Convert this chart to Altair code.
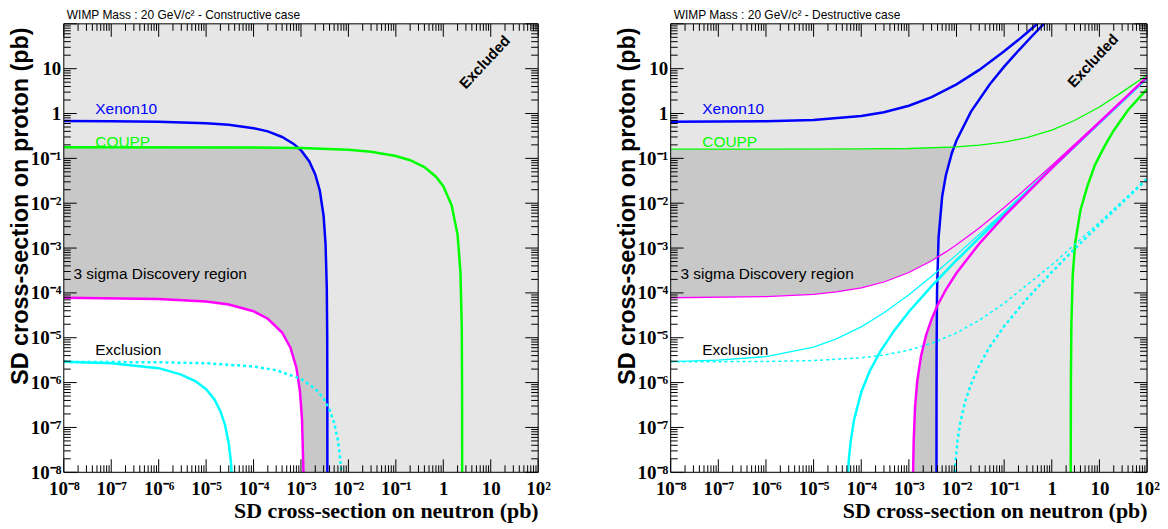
import altair as alt
import pandas as pd

# ---------------- axis ticks / labels ----------------
decades = [1e-8, 1e-7, 1e-6, 1e-5, 1e-4, 1e-3, 1e-2, 1e-1, 1.0, 10.0, 100.0]
x_labels = ["10⁻⁸", "10⁻⁷", "10⁻⁶", "10⁻⁵", "10⁻⁴", "10⁻³", "10⁻²", "10⁻¹", "1", "10", "10²"]
y_labels = x_labels[:-1]
minor_ticks = [m * 10.0 ** e for e in range(-8, 2) for m in range(2, 10)]

# ---------------- left panel: constructive case ----------------
L_xenon_x = [1e-8, 1e-7, 1e-6, 1e-5, 3e-5, 1e-4, 2e-4, 4e-4, 7e-4, 1e-3, 1.5e-3, 2e-3, 2.5e-3, 3e-3, 3.3e-3, 3.5e-3, 3.57e-3, 3.595e-3, 3.6e-3]
L_xenon_y = [0.68, 0.673, 0.657, 0.61, 0.56, 0.47, 0.40, 0.30, 0.21, 0.152, 0.0855, 0.044, 0.019, 5.2e-3, 1.2e-3, 1.3e-4, 1.2e-5, 3.3e-7, 1e-8]

L_coupp_x = [1e-8, 1e-4, 1e-3, 1e-2, 3e-2, 0.1, 0.2, 0.4, 0.7, 1.0, 1.5, 2.0, 2.3, 2.45, 2.49, 2.5]
L_coupp_y = [0.177, 0.175, 0.170, 0.155, 0.140, 0.113, 0.091, 0.064, 0.039, 0.024, 9.0e-3, 2.0e-3, 2.9e-4, 1.8e-5, 7e-7, 1e-8]

L_magenta_x = [1e-8, 1e-6, 1e-5, 3e-5, 1e-4, 2e-4, 4e-4, 6e-4, 8e-4, 9.5e-4, 1.05e-3, 1.12e-3, 1.13e-3]
L_magenta_y = [7.8e-5, 7.35e-5, 6.4e-5, 5.5e-5, 3.9e-5, 2.65e-5, 1.31e-5, 6.0e-6, 2.15e-6, 6.5e-7, 1.55e-7, 1.3e-8, 1e-8]

L_cyan_x = [1e-8, 1e-7, 1e-6, 3e-6, 6e-6, 1e-5, 1.5e-5, 2e-5, 2.5e-5, 3e-5, 3.3e-5, 3.45e-5]
L_cyan_y = [2.9e-6, 2.7e-6, 2.1e-6, 1.51e-6, 1.07e-6, 7.1e-7, 4.2e-7, 2.3e-7, 1.15e-7, 4.4e-8, 1.86e-8, 1e-8]

L_dot_x = [1e-8, 1e-6, 1e-5, 1e-4, 3e-4, 1e-3, 2e-3, 3e-3, 4e-3, 5e-3, 6e-3, 6.6e-3, 7.1e-3]
L_dot_y = [2.9e-6, 2.84e-6, 2.7e-6, 2.29e-6, 1.89e-6, 1.21e-6, 7.3e-7, 4.4e-7, 2.5e-7, 1.27e-7, 5.2e-8, 2.4e-8, 1e-8]

# ---------------- right panel: destructive case ----------------
R_xenon_up_x = [1e-8, 1e-6, 1e-5, 1e-4, 3e-4, 1e-3, 3e-3, 1e-2, 3e-2, 0.1, 0.2, 0.3, 0.45, 0.5]
R_xenon_up_y = [0.652, 0.67, 0.72, 0.88, 1.07, 1.49, 2.32, 4.47, 9.4, 24.4, 44, 63.5, 92, 101]

R_xenon_lo_x = [3.801e-3, 3.805e-3, 3.82e-3, 3.9e-3, 4.2e-3, 5e-3, 6e-3, 8e-3, 1e-2, 2e-2, 5e-2, 0.1, 0.2, 0.4, 0.6, 0.7]
R_xenon_lo_y = [1e-8, 2.8e-7, 4.5e-6, 1.1e-4, 1.7e-3, 0.0141, 0.0428, 0.132, 0.25, 1.09, 4.49, 11.1, 25.4, 55.7, 87, 102.8]

R_coupp_up_x = [1e-8, 1e-4, 1e-3, 1e-2, 3e-2, 0.1, 0.3, 1, 3, 10, 30, 100]
R_coupp_up_y = [0.16, 0.162, 0.166, 0.181, 0.197, 0.23, 0.29, 0.426, 0.70, 1.4, 3.0, 7.2]

R_coupp_lo_x = [2.5, 2.52, 2.58, 2.75, 3.1, 4, 5.6, 8, 12.6, 20, 40, 100]
R_coupp_lo_y = [1e-8, 1e-6, 2e-5, 2.5e-4, 1.3e-3, 7e-3, 0.024, 0.07, 0.18, 0.42, 1.2, 3.5]

R_mag_up_x = [1e-8, 1e-6, 1e-5, 3e-5, 1e-4, 3e-4, 1e-3, 3e-3, 6e-3, 1e-2, 3e-2, 0.1, 0.3, 1, 3, 10, 30, 100]
R_mag_up_y = [7.8e-5, 8.3e-5, 9.3e-5, 1.05e-4, 1.3e-4, 1.75e-4, 2.85e-4, 5.2e-4, 8.2e-4, 1.18e-3, 2.8e-3, 8.0e-3, 0.022, 0.0696, 0.203, 0.664, 1.97, 6.5]

R_mag_lo_x = [1.227e-3, 1.26e-3, 1.35e-3, 1.5e-3, 1.8e-3, 2.3e-3, 3e-3, 4e-3, 6e-3, 1e-2, 3e-2, 0.1, 1, 10, 100]
R_mag_lo_y = [1e-8, 4.8e-8, 2.9e-7, 1.09e-6, 3.9e-6, 1.15e-5, 2.6e-5, 5.3e-5, 1.19e-4, 2.78e-4, 1.25e-3, 5.15e-3, 0.0606, 0.636, 6.46]

R_cyan_up_x = [1e-8, 1e-7, 1e-6, 1e-5, 3e-5, 1e-4, 3e-4, 1e-3, 3e-3, 1e-2, 0.1, 1, 10, 100]
R_cyan_up_y = [2.95e-6, 3.17e-6, 3.8e-6, 6.2e-6, 9.4e-6, 1.75e-5, 3.6e-5, 9.1e-5, 2.34e-4, 7.05e-4, 6.4e-3, 0.0626, 0.62, 6.2]

R_cyan_lo_x = [5.27e-5, 5.5e-5, 6e-5, 7e-5, 1e-4, 1.5e-4, 2.5e-4, 5e-4, 1e-3, 3e-3, 1e-2, 0.1, 1, 10, 100]
R_cyan_lo_y = [1e-8, 1.94e-8, 4.9e-8, 1.41e-7, 6.1e-7, 1.79e-6, 4.9e-6, 1.48e-5, 3.8e-5, 1.42e-4, 5.35e-4, 5.9e-3, 0.061, 0.614, 6.1]

R_dot_up_x = [1e-8, 1e-6, 1e-5, 1e-4, 3e-4, 1e-3, 3e-3, 1e-2, 3e-2, 0.1, 1, 10, 100]
R_dot_up_y = [2.9e-6, 2.96e-6, 3.1e-6, 3.58e-6, 4.1e-6, 5.3e-6, 7.5e-6, 1.28e-5, 2.46e-5, 5.85e-5, 4.2e-4, 3.74e-3, 0.036]

R_dot_lo_x = [9.2e-3, 9.5e-3, 1.05e-2, 1.2e-2, 1.5e-2, 2e-2, 3e-2, 5e-2, 0.1, 0.3, 1, 2, 10, 100]
R_dot_lo_y = [1e-8, 1.69e-8, 5.0e-8, 1.28e-7, 3.6e-7, 9.1e-7, 2.4e-6, 6.3e-6, 1.8e-5, 7.4e-5, 2.9e-4, 6.2e-4, 3.34e-3, 0.0347]

# ---------------- annotations ----------------
label_texts = ["Xenon10", "COUPP", "3 sigma Discovery region", "Exclusion"]
label_colors = ["#0000ff", "#00ff00", "#000000", "#000000"]
label_x = [4.6e-8, 4.6e-8, 1.6e-8, 4.6e-8]
label_y = [1.25, 0.23, 2.6e-4, 5.2e-6]
excluded_text = "Excluded"
excluded_left = (7.5, 14.0)
excluded_right = (7.3, 15.0)

# ---------------- styling ----------------
WL, WR, H = 476, 478, 450
LIGHT = "#e6e6e6"
DARK = "#c8c8c8"
BLUE, GREEN, MAGENTA, CYAN = "#0000ff", "#00ff00", "#ff00ff", "#00ffff"
YMIN, YMAX = 1e-8, 100.0


def label_expr(vals, labs):
    parts = [f"datum.value < {v * 3:.3g} ? '{l}'" for v, l in zip(vals, labs)]
    return " : ".join(parts) + " : ''"


xscale = alt.Scale(type="log", domain=[YMIN, YMAX], nice=False)
yscale = alt.Scale(type="log", domain=[YMIN, YMAX], nice=False)

xaxis = alt.Axis(
    values=decades, labelExpr=label_expr(decades, x_labels), ticks=False, tickSize=0,
    domain=False, grid=False, labelFlush=False, labelOverlap=False,
    labelFont="Liberation Serif", labelFontWeight="bold", labelFontSize=19, labelColor="black",
    labelPadding=7, title="SD cross-section on neutron (pb)", titleFont="Liberation Serif",
    titleFontSize=22, titleFontWeight="bold", titleColor="black", titleAnchor="end", titlePadding=2,
)
yaxis = alt.Axis(
    values=decades[:-1], labelExpr=label_expr(decades[:-1], y_labels), ticks=False, tickSize=0,
    domain=False, grid=False, labelFlush=False, labelOverlap=False,
    labelFont="Liberation Serif", labelFontWeight="bold", labelFontSize=19, labelColor="black",
    labelPadding=3, title="SD cross-section on proton (pb)", titleFont="Liberation Sans",
    titleFontSize=23.5, titleFontWeight="bold", titleColor="black",
    titleX=-31, titleY=3, titleAngle=270, titleAlign="right", titleBaseline="bottom",
)

X = alt.X("x:Q", scale=xscale, axis=xaxis)
Y = alt.Y("y:Q", scale=yscale, axis=yaxis)


def df_xy(xs, ys):
    return pd.DataFrame({"x": xs, "y": ys, "i": list(range(len(xs)))})


def line(xs, ys, color, width, dash=None):
    kw = dict(color=color, strokeWidth=width, clip=True)
    if dash:
        kw["strokeDash"] = dash
    return alt.Chart(df_xy(xs, ys)).mark_line(**kw).encode(x=X, y=Y, order="i:Q")


def vfill(xs, ys, color, to_top=False):
    return alt.Chart(df_xy(xs, ys)).mark_area(color=color, clip=True, orient="vertical").encode(
        x=X, y=Y, y2=alt.Y2(datum=YMAX if to_top else YMIN))


def hfill(xs, ys, color, to_right=False):
    return alt.Chart(df_xy(xs, ys)).mark_area(color=color, clip=True, orient="horizontal").encode(
        y=Y, x=X, x2=alt.X2(datum=YMAX if to_right else YMIN))


def background(W):
    return alt.Chart(pd.DataFrame({"a": [0]})).mark_rect(color=LIGHT).encode(
        x=alt.value(0), x2=alt.value(W), y=alt.value(0), y2=alt.value(H))


def frame_layers(W):
    maj = pd.DataFrame({"v": decades})
    mnr = pd.DataFrame({"v": minor_ticks})
    XV = alt.X("v:Q", scale=xscale, axis=xaxis)
    YV = alt.Y("v:Q", scale=yscale, axis=yaxis)
    layers = []
    for d, ln in ((maj, 13), (mnr, 7)):
        r = alt.Chart(d).mark_rule(color="black", strokeWidth=1)
        layers.append(r.encode(x=XV, y=alt.value(H), y2=alt.value(H - ln)))
        layers.append(r.encode(x=XV, y=alt.value(0), y2=alt.value(ln)))
        layers.append(r.encode(y=YV, x=alt.value(0), x2=alt.value(ln)))
        layers.append(r.encode(y=YV, x=alt.value(W), x2=alt.value(W - ln)))
    border = alt.Chart(pd.DataFrame({"a": [0]})).mark_rect(
        filled=False, stroke="black", strokeWidth=1).encode(
        x=alt.value(0), x2=alt.value(W), y=alt.value(0), y2=alt.value(H))
    layers.append(border)
    return layers


def text_layers(exc_pos):
    tdf = pd.DataFrame({"x": label_x, "y": label_y, "t": label_texts, "c": label_colors})
    t = alt.Chart(tdf).mark_text(align="left", baseline="middle", font="Liberation Sans", fontSize=15.5).encode(
        x=X, y=Y, text="t:N", color=alt.Color("c:N", scale=None))
    edf = pd.DataFrame({"x": [exc_pos[0]], "y": [exc_pos[1]], "t": [excluded_text]})
    e = alt.Chart(edf).mark_text(align="center", baseline="middle", font="Liberation Sans", fontSize=15,
                                 fontWeight="bold", angle=313, color="black").encode(x=X, y=Y, text="t:N")
    return [t, e]


def title(txt):
    return alt.TitleParams(text=txt, anchor="start", frame="group", dx=3, offset=1, font="Liberation Sans",
                           fontSize=12, fontWeight="normal", color="black")


left_layers = [
    background(WL),
    vfill(L_xenon_x, L_xenon_y, DARK),
    vfill(L_coupp_x, L_coupp_y, LIGHT, to_top=True),
    vfill(L_magenta_x, L_magenta_y, "white"),
    line(L_xenon_x, L_xenon_y, BLUE, 2.5),
    line(L_coupp_x, L_coupp_y, GREEN, 2.5),
    line(L_magenta_x, L_magenta_y, MAGENTA, 2.5),
    line(L_cyan_x, L_cyan_y, CYAN, 2.5),
    line(L_dot_x, L_dot_y, CYAN, 2.5, [3, 3]),
] + text_layers(excluded_left) + frame_layers(WL)

right_layers = [
    background(WR),
    hfill(R_xenon_lo_x, R_xenon_lo_y, DARK),
    vfill(R_mag_up_x, R_mag_up_y, "white"),
    hfill(R_mag_lo_x, R_mag_lo_y, DARK, to_right=True),
    hfill(R_xenon_lo_x, R_xenon_lo_y, LIGHT, to_right=True),
    vfill(R_coupp_up_x, R_coupp_up_y, LIGHT, to_top=True),
    line(R_xenon_up_x, R_xenon_up_y, BLUE, 2.5),
    line(R_xenon_lo_x, R_xenon_lo_y, BLUE, 2.5),
    line(R_coupp_up_x, R_coupp_up_y, GREEN, 1.3),
    line(R_coupp_lo_x, R_coupp_lo_y, GREEN, 2.5),
    line(R_dot_up_x, R_dot_up_y, CYAN, 1.5, [3, 3]),
    line(R_dot_lo_x, R_dot_lo_y, CYAN, 2.5, [3, 3]),
    line(R_cyan_up_x, R_cyan_up_y, CYAN, 1.3),
    line(R_cyan_lo_x, R_cyan_lo_y, CYAN, 2.5),
    line(R_mag_up_x, R_mag_up_y, MAGENTA, 1.3),
    line(R_mag_lo_x, R_mag_lo_y, MAGENTA, 2.5),
] + text_layers(excluded_right) + frame_layers(WR)

left = alt.layer(*left_layers).properties(
    width=WL, height=H, title=title("WIMP Mass : 20 GeV/c² - Constructive case"))
right = alt.layer(*right_layers).properties(
    width=WR, height=H, title=title("WIMP Mass : 20 GeV/c² - Destructive case"))

chart = alt.hconcat(left, right, spacing=64).properties(padding=0).configure_view(
    stroke="black", strokeWidth=1).configure(background="white")

chart.save("out.html", embed_options={"renderer": "svg", "actions": False})
